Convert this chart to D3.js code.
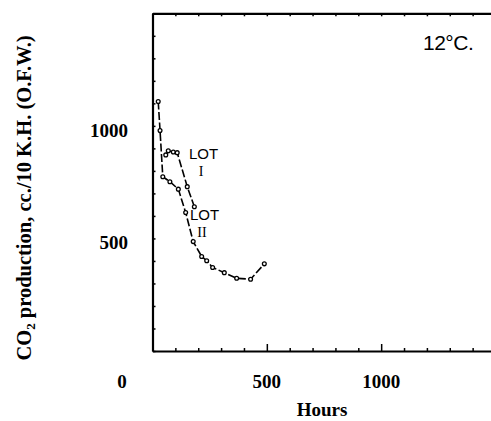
<!DOCTYPE html>
<html><head><meta charset="utf-8">
<script src="https://cdn.jsdelivr.net/npm/d3@7"></script>
<style>body{margin:0;background:#fff}svg{display:block}</style>
</head><body><svg id="c" width="491" height="421"></svg>
<script>
const hoursLot2 = [25, 33, 45, 76, 113, 145, 178, 215, 237, 263, 314, 368, 429, 489];
const co2Lot2   = [1108, 979, 774, 752, 719, 615, 486, 420, 401, 371, 348, 323, 319, 387];
const hoursLot1 = [58, 69, 91, 108, 152, 183];
const co2Lot1   = [871, 889, 884, 881, 730, 641];
const xTickValues = d3.range(0, 1501, 100);
const yTickValues = d3.range(0, 1501, 100);
const xLabels = [500, 1000];
const yLabels = [500, 1000];

const svg = d3.select("#c");
const x = d3.scaleLinear().domain([0, 1500]).range([152.5, 495.5]);
const y = d3.scaleLinear().domain([0, 1500]).range([351, 13.3]);
const serif = "'Liberation Serif','DejaVu Serif',serif";
const sans = "'Liberation Sans',Arial,sans-serif";

// axes
const gB = svg.append("g").attr("transform", `translate(0,${y(0)})`)
  .call(d3.axisBottom(x).tickValues(xTickValues).tickSize(-3).tickFormat("").tickSizeOuter(0));
const gT = svg.append("g").attr("transform", `translate(0,${y(1500)})`)
  .call(d3.axisTop(x).tickValues(xTickValues).tickSize(-3).tickFormat("").tickSizeOuter(0));
const gL = svg.append("g").attr("transform", `translate(${x(0)},0)`)
  .call(d3.axisLeft(y).tickValues(yTickValues).tickSize(-3).tickFormat("").tickSizeOuter(0));
[gB, gT, gL].forEach(g => {
  g.select(".domain").attr("stroke", "#000").attr("stroke-width", 2.2);
  g.selectAll(".tick line").attr("stroke", "#000").attr("stroke-width", 1.5);
});
gB.selectAll(".tick").filter(d => d === 500 || d === 1000).select("line").attr("y2", -7);

// tick labels
svg.append("g").selectAll("text").data(xLabels).join("text")
  .attr("x", d => x(d)).attr("y", 388).attr("text-anchor", "middle")
  .attr("font-family", serif).attr("font-weight", "bold").attr("font-size", 19)
  .text(d => d);
svg.append("g").selectAll("text").data(yLabels).join("text")
  .attr("x", 128).attr("y", d => y(d) + 11).attr("text-anchor", "end")
  .attr("font-family", serif).attr("font-weight", "bold").attr("font-size", 19)
  .text(d => d);
svg.append("text").attr("x", 122).attr("y", 388).attr("text-anchor", "middle")
  .attr("font-family", serif).attr("font-weight", "bold").attr("font-size", 19).text("0");

// axis titles
svg.append("text").attr("x", 322).attr("y", 416).attr("text-anchor", "middle")
  .attr("font-family", serif).attr("font-weight", "bold").attr("font-size", 19).text("Hours");
const yt = svg.append("text").attr("transform", "translate(31,198) rotate(-90)")
  .attr("text-anchor", "middle").attr("font-family", serif).attr("font-weight", "bold").attr("font-size", 20.5);
yt.append("tspan").text("CO");
yt.append("tspan").attr("font-size", 13).attr("dy", 4).text("2");
yt.append("tspan").attr("dy", -4).text(" production, cc./10 K.H. (O.F.W.)");

// lines
const line = d3.line().x(d => x(d[0])).y(d => y(d[1]));
const lot2 = hoursLot2.map((h, i) => [h, co2Lot2[i]]);
const lot1 = hoursLot1.map((h, i) => [h, co2Lot1[i]]);
[lot2, lot1].forEach(data => {
  svg.append("path").datum(data).attr("d", line).attr("fill", "none")
    .attr("stroke", "#000").attr("stroke-width", 1.6).attr("stroke-dasharray", "8,2.5");
  svg.append("g").selectAll("circle").data(data).join("circle")
    .attr("cx", d => x(d[0])).attr("cy", d => y(d[1])).attr("r", 1.9)
    .attr("fill", "#fff").attr("stroke", "#000").attr("stroke-width", 1.3);
});

// annotations
function lotLabel(px, py, num) {
  svg.append("text").attr("x", px).attr("y", py).attr("font-family", sans).attr("font-size", 15).text("LOT");
  svg.append("text").attr("x", px + 12).attr("y", py + 17).attr("text-anchor", "middle")
    .attr("font-family", serif).attr("font-size", 14).text(num);
}
lotLabel(189, 159, "I");
lotLabel(190, 220, "II");
svg.append("text").attr("x", 423).attr("y", 50).attr("font-family", sans).attr("font-size", 21)
  .attr("letter-spacing", -0.5).text("12°C.");
</script></body></html>
